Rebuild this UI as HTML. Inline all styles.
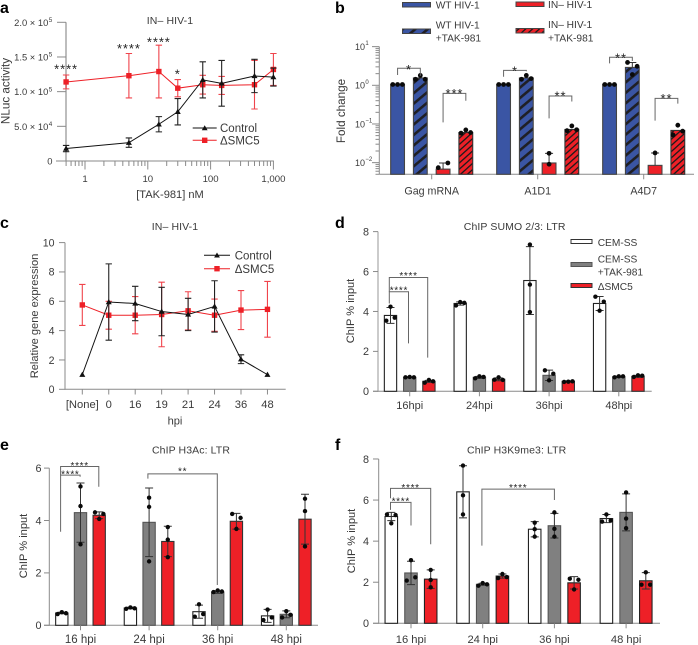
<!DOCTYPE html>
<html lang="en">
<head>
<meta charset="utf-8">
<title>TAK-981 and SMC5 HIV-1 panels</title>
<style>
html,body{margin:0;padding:0;background:#fff;}
svg{display:block;font-family:"Liberation Sans",sans-serif;fill:#3a3a3a;}
.letter{font-size:16px;font-weight:bold;fill:#000;}
.title{font-size:10.5px;text-anchor:middle;letter-spacing:.1px;}
.axt{font-size:11.1px;text-anchor:middle;}
.leg{font-size:10.2px;}
.leg2{font-size:11.5px;}
</style>
</head>
<body>
<svg id="figure" xmlns="http://www.w3.org/2000/svg" width="698" height="645" viewBox="0 0 698 645">
<defs>
<pattern id="blue-hatch" width="8" height="8" patternUnits="userSpaceOnUse" patternTransform="rotate(-40)"><rect width="8" height="8" fill="#3a55a4"/><rect width="8" height="2.6" fill="#1f1f24"/></pattern>
<pattern id="red-hatch" width="4.6" height="4.6" patternUnits="userSpaceOnUse" patternTransform="rotate(-42)"><rect width="4.6" height="4.6" fill="#ee2027"/><rect width="4.6" height="1.3" fill="#1a1a1a"/></pattern>
</defs>
<rect width="698" height="645" fill="#fff"/>

<text class="letter" x="0" y="13">a</text>
<text class="letter" x="335" y="13">b</text>
<text class="letter" x="0" y="228">c</text>
<text class="letter" x="335" y="228">d</text>
<text class="letter" x="0" y="450">e</text>
<text class="letter" x="335" y="450">f</text>

<text class="title" x="170" y="24">IN– HIV-1</text>
<text class="axt" x="170" y="198">[TAK-981] nM</text>
<text class="axt" style="font-size:11.7px" transform="translate(9.5,91) rotate(-90)">NLuc activity</text>

<text class="axt" style="font-size:11.7px" transform="translate(345,111) rotate(-90)">Fold change</text>

<text class="title" x="175" y="230">IN– HIV-1</text>
<text class="axt" x="175" y="424.5">hpi</text>
<text class="axt" transform="translate(38,316) rotate(-90)">Relative gene expression</text>

<text class="title" x="514.7" y="230">ChIP SUMO 2/3: LTR</text>
<text class="axt" transform="translate(354,311) rotate(-90)">ChIP % input</text>

<text class="title" x="191" y="453.5">ChIP H3Ac: LTR</text>
<text class="axt" transform="translate(27,546) rotate(-90)">ChIP % input</text>

<text class="title" x="516.7" y="453.5">ChIP H3K9me3: LTR</text>
<text class="axt" transform="translate(355,541) rotate(-90)">ChIP % input</text>

<!-- Legend b -->
<g>
<rect x="402.5" y="2.5" width="28" height="4.5" fill="#3a55a4" stroke="#444"/>
<text class="leg" x="435.7" y="8.5">WT HIV-1</text>
<rect x="402.5" y="29" width="28" height="4.5" fill="url(#blue-hatch)" stroke="#444"/>
<text class="leg"><tspan x="435.7" y="28.7">WT HIV-1</tspan><tspan x="435.7" y="41.7">+TAK-981</tspan></text>
<rect x="516" y="2" width="28" height="4.5" fill="#ee2027" stroke="#444"/>
<text class="leg" x="548" y="8">IN– HIV-1</text>
<rect x="516" y="28.5" width="28" height="4.5" fill="url(#red-hatch)" stroke="#444"/>
<text class="leg"><tspan x="548" y="28">IN– HIV-1</tspan><tspan x="548" y="41.5">+TAK-981</tspan></text>
</g>

<!-- Legend d -->
<g>
<rect x="571" y="239.5" width="21" height="4" fill="#fff" stroke="#333"/>
<text class="leg" x="597.7" y="246">CEM-SS</text>
<rect x="571" y="262.5" width="21" height="4" fill="#808080" stroke="#555"/>
<text class="leg"><tspan x="597.7" y="262.5">CEM-SS</tspan><tspan x="597.7" y="275.5">+TAK-981</tspan></text>
<rect x="571" y="283.5" width="21" height="4" fill="#ee2027" stroke="#333"/>
<text class="leg" x="597.7" y="290">ΔSMC5</text>
</g>

<!-- Legend a -->
<g>
<line x1="192.7" x2="216.7" y1="128" y2="128" stroke="#111" stroke-width="1"/>
<polygon points="204.7,125.2 207.6,130.2 201.8,130.2" fill="#111"/>
<text class="leg2" x="220" y="132.2">Control</text>
<line x1="192.7" x2="216.7" y1="140.3" y2="140.3" stroke="#ee2027" stroke-width="1"/>
<rect x="202" y="137.6" width="5.4" height="5.4" fill="#ee2027"/>
<text class="leg2" x="220" y="144.5">ΔSMC5</text>
</g>

<!-- Legend c -->
<g>
<line x1="204" x2="230" y1="255.3" y2="255.3" stroke="#111" stroke-width="1"/>
<polygon points="217,252.5 219.9,257.5 214.1,257.5" fill="#111"/>
<text class="leg2" x="234.7" y="259.5">Control</text>
<line x1="204" x2="230" y1="268.7" y2="268.7" stroke="#ee2027" stroke-width="1"/>
<rect x="214.3" y="266" width="5.4" height="5.4" fill="#ee2027"/>
<text class="leg2" x="234.7" y="272.9">ΔSMC5</text>
</g>

<g id="charts"></g>
</svg>

<script>
// ---------- Panel a data ----------
const aDoses = [0.5, 5, 15, 30, 75, 150, 500, 1000];
const aControl = [18000, 26500, 53000, 71000, 117000, 112000, 122600, 121000];
const aControlErr = [4500, 6700, 11000, 19000, 26000, 33000, 24000, 13000];
const aSmc5 = [114000, 123000, 129000, 105000, 110000, 109000, 110000, 132000];
const aSmc5Err = [10000, 32000, 38000, 12500, 13500, 13000, 35000, 23000];
const aYTicks = [0, 50000, 100000, 150000, 200000];
const aYMantissas = ['0', '5.0 × 10', '1.0 × 10', '1.5 × 10', '2.0 × 10'];
const aYExponents = ['', '4', '5', '5', '5'];
const aXTicks = [1, 10, 100, 1000];
const aXLabels = ['1', '10', '100', '1,000'];
const aStarDoses = [0.5, 5, 15, 30];
const aStarValues = [137500, 167000, 176000, 130000];
const aStarLabels = ['****', '****', '****', '*'];

// ---------- Panel b data ----------
const bGroups = ['Gag mRNA', 'A1D1', 'A4D7'];
const bMeans = [[1.05, 1.55, 0.0068, 0.06], [1.05, 1.55, 0.0098, 0.072], [1.05, 2.9, 0.0085, 0.068]];
const bUpper = [[0, 0, 0.0098, 0], [0, 0, 0.0174, 0], [0, 3.9, 0.0178, 0]];
const bPoints = [
  [[1.05, 1.05, 1.05], [1.43, 1.8, 1.43], [0.0074, 0.0045, 0.0098], [0.058, 0.07, 0.06]],
  [[1.05, 1.05, 1.05], [1.43, 1.8, 1.49], [0.0091, 0.0174, 0.0045], [0.067, 0.089, 0.071]],
  [[1.05, 1.05, 1.05], [3.9, 1.9, 3.1], [0.0178, 0.0045, 0.0045], [0.052, 0.093, 0.065]]
];
const bYExponents = [1, 0, -1, -2];
const bBrackets = [
  {from: [0, 0], to: [0, 1], top: 2.75, leftEnd: 1.85, rightEnd: 1.75, label: '*', labelValue: 3.05},
  {from: [0, 2], to: [0, 3], top: 0.62, leftEnd: 0.11, rightEnd: 0.4, label: '***', labelValue: 0.75},
  {from: [1, 0], to: [1, 1], top: 2.44, leftEnd: 1.67, rightEnd: 2.3, label: '*', labelValue: 2.8},
  {from: [1, 2], to: [1, 3], top: 0.53, leftEnd: 0.14, rightEnd: 0.38, label: '**', labelValue: 0.63},
  {from: [2, 0], to: [2, 1], top: 5.3, leftEnd: 3.7, rightEnd: 4.26, label: '**', labelValue: 6.2},
  {from: [2, 2], to: [2, 3], top: 0.46, leftEnd: 0.122, rightEnd: 0.336, label: '**', labelValue: 0.55}
];

// ---------- Panel c data ----------
const cCategories = ['[None]', '0', '16', '19', '21', '24', '36', '48'];
const cControl = [1, 5.95, 5.85, 5.3, 5.1, 5.65, 2.05, 1];
const cControlErr = [0, 2.6, 1.17, 1.65, 1.1, 1.75, 0.3, 0];
const cSmc5 = [5.75, 5.05, 5.05, 5.1, 5.35, 5.05, 5.4, 5.45];
const cSmc5Err = [1.4, 0.95, 1.27, 2.2, 1.3, 1.1, 1.33, 1.9];
const cYTicks = [0, 2, 4, 6, 8, 10];

// ---------- Panel d data ----------
const dGroups = ['16hpi', '24hpi', '36hpi', '48hpi'];
const dMeans = [[3.8, 0.7, 0.5], [4.4, 0.7, 0.6], [5.55, 0.8, 0.5], [4.4, 0.73, 0.75]];
const dErrors = [[0.4, 0.02, 0.05], [0.08, 0.05, 0.07], [1.7, 0.26, 0.02], [0.35, 0.03, 0.05]];
const dPoints = [
  [[3.54, 4.24, 3.69], [0.7, 0.72, 0.7], [0.43, 0.57, 0.5]],
  [[4.3, 4.47, 4.43], [0.65, 0.75, 0.72], [0.58, 0.7, 0.57]],
  [[7.35, 5.35, 3.97], [1.05, 0.55, 0.88], [0.47, 0.48, 0.5]],
  [[4.74, 4.49, 4.04], [0.7, 0.75, 0.75], [0.72, 0.8, 0.78]]
];
const dYTicks = [0, 2, 4, 6, 8];
const dBrackets = [
  {from: [0, 0], to: [0, 1], top: 4.99, leftEnd: 4.4, rightEnd: 2.4, label: '****', labelValue: 5.19},
  {from: [0, 0], to: [0, 2], top: 5.7, leftEnd: 4.99, rightEnd: 1.69, label: '****', labelValue: 5.93}
];

// ---------- Panel e data ----------
const eGroups = ['16 hpi', '24 hpi', '36 hpi', '48 hpi'];
const eMeans = [[0.47, 4.3, 4.2], [0.66, 3.93, 3.2], [0.52, 1.27, 3.97], [0.36, 0.42, 4.05]];
const eErrors = [[0.03, 1.13, 0.13], [0.03, 1.31, 0.58], [0.25, 0.05, 0.3], [0.25, 0.13, 0.95]];
const ePoints = [
  [[0.43, 0.5, 0.46], [5.3, 4.55, 3.09], [4.31, 4.06, 4.25]],
  [[0.63, 0.68, 0.65], [4.87, 4.52, 2.44], [3.75, 3.27, 2.6]],
  [[0.33, 0.8, 0.43], [1.27, 1.33, 1.29], [4.25, 3.68, 4.1]],
  [[0.2, 0.6, 0.3], [0.3, 0.54, 0.4], [4.83, 4.36, 3.01]]
];
const eYTicks = [0, 2, 4, 6];
const eBrackets = [
  {from: [0, 0], to: [0, 1], top: 5.73, leftEnd: 3.57, rightEnd: 5.67, label: '****', labelValue: 5.86},
  {from: [0, 0], to: [0, 2], top: 6.06, leftEnd: 5.73, rightEnd: 5.29, label: '****', labelValue: 6.2},
  {from: [1, 1], to: [2, 1], top: 5.78, leftEnd: 5.6, rightEnd: 1.54, label: '**', labelValue: 5.99}
];

// ---------- Panel f data ----------
const fGroups = ['16 hpi', '24 hpi', '36 hpi', '48 hpi'];
const fMeans = [[5.2, 2.45, 2.15], [6.4, 1.9, 2.3], [4.58, 4.75, 1.97], [5.1, 5.4, 2.07]];
const fErrors = [[0.2, 0.57, 0.45], [1.27, 0.05, 0.1], [0.37, 0.6, 0.3], [0.2, 0.9, 0.4]];
const fPoints = [
  [[5.3, 4.87, 5.27], [2.08, 3.07, 2.24], [2.6, 2.11, 1.75]],
  [[7.68, 6.23, 5.3], [1.83, 1.96, 1.9], [2.2, 2.4, 2.25]],
  [[4.9, 4.58, 4.22], [5.4, 4.6, 4.22], [2.17, 1.65, 2.12]],
  [[4.95, 5.3, 5.0], [6.37, 5.1, 4.63], [1.88, 2.48, 1.88]]
];
const fYTicks = [0, 2, 4, 6, 8];
const fBrackets = [
  {from: [0, 0], to: [0, 1], top: 5.89, leftEnd: 5.52, rightEnd: 4.76, label: '****', labelValue: 6.06},
  {from: [0, 0], to: [0, 2], top: 6.57, leftEnd: 6.09, rightEnd: 3.85, label: '****', labelValue: 6.72},
  {from: [1, 1], to: [2, 1], top: 6.53, leftEnd: 3.78, rightEnd: 6.0, label: '****', labelValue: 6.74}
];

// ---------- Drawing ----------
const NS = 'http://www.w3.org/2000/svg';
const root = document.getElementById('charts');
const AXIS = '#8a8a8a', TEXT = '#3a3a3a', RED = '#ee2027', BLUE = '#3a55a4', GREY = '#808080';

function mk(tag, attrs, text) {
  const n = document.createElementNS(NS, tag);
  for (const k in attrs) n.setAttribute(k, attrs[k]);
  if (text !== undefined) n.textContent = text;
  root.appendChild(n);
  return n;
}
function drawAxisLine(x1, y1, x2, y2, color, width) {
  const n = mk('line', {x1: x1, y1: y1, x2: x2, y2: y2, stroke: color || AXIS, 'stroke-width': width || 1});
  
  
}
function drawTick(x1, y1, x2, y2) {
  const n = mk('line', {x1: x1, y1: y1, x2: x2, y2: y2, stroke: AXIS, 'stroke-width': 1});
  
  
}
function drawTickLabel(x, y, str, anchor, size) {
  const n = mk('text', {x: x, y: y, 'text-anchor': anchor, 'font-size': size || 11, fill: TEXT}, str);
  
  
}
function drawStars(x, y, label, size, spacing) {
  const n = mk('text', {x: x, y: y + size * 0.59, 'text-anchor': 'middle', 'font-size': size, 'letter-spacing': spacing, fill: '#222'}, label);
  
  
}
function drawErrorBar(x, yTop, yBottom, cap, color, width) {
  const d = 'M' + (x - cap) + ' ' + yTop + 'H' + (x + cap) + 'M' + x + ' ' + yTop + 'V' + yBottom +
            'M' + (x - cap) + ' ' + yBottom + 'H' + (x + cap);
  const n = mk('path', {d: d, stroke: color, 'stroke-width': width, fill: 'none'});
  
  
}
function drawSeriesLine(xs, ys, color, width) {
  const pts = xs.map(function (x, i) { return x + ',' + ys[i]; }).join(' ');
  const n = mk('polyline', {points: pts, fill: 'none', stroke: color, 'stroke-width': width});
  
  
}
function drawTriangle(x, y, color) {
  const pts = x + ',' + (y - 3) + ' ' + (x + 3) + ',' + (y + 2.2) + ' ' + (x - 3) + ',' + (y + 2.2);
  const n = mk('polygon', {points: pts, fill: color});
  
  
}
function drawSquare(x, y, color) {
  const n = mk('rect', {x: x - 2.7, y: y - 2.7, width: 5.4, height: 5.4, fill: color});
  
  
}
function drawLineSeries(xs, vals, errs, yFn, color, errColor, marker, cap) {
  const ys = vals.map(yFn);
  vals.forEach(function (v, i) {
    if (errs[i] > 0) drawErrorBar(xs[i], yFn(v + errs[i]), yFn(v - errs[i]), cap, errColor, 1.1);
  });
  drawSeriesLine(xs, ys, color, 1);
  xs.forEach(function (x, i) { marker(x, ys[i], color); });
}

// Panel a
const aX = function (v) { return 85 + 62.8 * Math.log10(v); };
const aY = function (v) { return 161 - v * 138.7 / 200000; };
drawAxisLine(66, aY(200000), 66, 161.5, '#bdbdbd', 2);
drawAxisLine(56, 161, aX(1000) + 0.5, 161);
aYTicks.forEach(function (t, i) {
  drawTick(57, aY(t), 66, aY(t));
  drawTickLabel(i === 0 ? 52.5 : 48.3, aY(t) + 3.5, aYMantissas[i], 'end', 9.4);
  if (aYExponents[i] !== '') drawTickLabel(48.8, aY(t) - 0.3, aYExponents[i], 'start', 6.3);
});
[0.5, 0.6, 0.7, 0.8, 0.9, 2, 3, 4, 5, 6, 7, 8, 9, 20, 30, 40, 50, 60, 70, 80, 90, 200, 300, 400, 500, 600, 700, 800, 900].forEach(function (m) {
  drawTick(aX(m), 161, aX(m), 166);
});
aXTicks.forEach(function (t, i) {
  drawTick(aX(t), 161, aX(t), 169.5);
  drawTickLabel(aX(t), 182, aXLabels[i], 'middle', 9.6);
});
const aXs = aDoses.map(aX);
drawLineSeries(aXs, aSmc5, aSmc5Err, aY, RED, '#f0444c', drawSquare, 3.2);
drawLineSeries(aXs, aControl, aControlErr, aY, '#111', '#222', drawTriangle, 3.2);
aStarLabels.forEach(function (s, i) {
  drawStars(aX(aStarDoses[i]), aY(aStarValues[i]), s, 13, 0.9);
});

// Panel c
const cX = function (i) { return 82.3 + 26.45 * i; };
const cY = function (v) { return 389.3 - v * 14.67; };
drawAxisLine(65, cY(10), 65, 389.8);
drawAxisLine(65, 389.3, 285.7, 389.3);
cYTicks.forEach(function (t) {
  drawTick(59, cY(t), 65, cY(t));
  drawTickLabel(54.5, cY(t) + 3.8, String(t), 'end', 10.6);
});
cCategories.forEach(function (c, i) {
  drawTick(cX(i), 389.3, cX(i), 394.5);
  drawTickLabel(cX(i), 408, c, 'middle', 11.2);
});
const cXs = cCategories.map(function (c, i) { return cX(i); });
drawLineSeries(cXs, cSmc5, cSmc5Err, cY, RED, '#f0444c', drawSquare, 3.2);
drawLineSeries(cXs, cControl, cControlErr, cY, '#111', '#222', drawTriangle, 3.2);

// Bar panels
function pointOffsets(values, yFn, step) {
  const ys = values.map(yFn);
  const thr = 6.3;
  const close = function (a, b) { return Math.abs(ys[a] - ys[b]) < thr; };
  const pairs = [[0, 1], [0, 2], [1, 2]].filter(function (p) { return close(p[0], p[1]); });
  if (pairs.length === 0) return [0, 0, 0];
  if (pairs.length > 1) return [-step, 0, step];
  const out = [0, 0, 0];
  out[pairs[0][0]] = -step;
  out[pairs[0][1]] = step;
  return out;
}
function drawBarPanel(cfg) {
  const barX = function (g, b) { return cfg.firstCenter + cfg.groupStep * g + cfg.barStep * (b - (cfg.barCount - 1) / 2); };
  cfg.means.forEach(function (row, g) {
    row.forEach(function (m, b) {
      const x = barX(g, b);
      const yTop = cfg.y(m);
      const rect = mk('rect', {x: x - cfg.barWidth / 2, y: yTop, width: cfg.barWidth, height: cfg.baseY - yTop,
        fill: cfg.fills[b], stroke: cfg.strokes[b], 'stroke-width': 1.1});
      
      
    });
  });
  cfg.means.forEach(function (row, g) {
    row.forEach(function (m, b) {
      const x = barX(g, b);
      if (cfg.errors) {
        drawErrorBar(x, cfg.y(m + cfg.errors[g][b]), cfg.y(Math.max(m - cfg.errors[g][b], 0.001)), cfg.cap, '#333', 1);
      }
      if (cfg.upper && cfg.upper[g][b] > 0) {
        const d = 'M' + (x - cfg.cap) + ' ' + cfg.y(cfg.upper[g][b]) + 'H' + (x + cfg.cap) + 'M' + x + ' ' + cfg.y(cfg.upper[g][b]) + 'V' + cfg.y(m);
        const e = mk('path', {d: d, stroke: '#333', 'stroke-width': 1, fill: 'none'});
        
        
      }
      const pts = cfg.points[g][b];
      const offs = pointOffsets(pts, cfg.y, cfg.pointStep);
      pts.forEach(function (p, k) {
        if (p < cfg.minValue) return;
        const c = mk('circle', {cx: x + offs[k], cy: cfg.y(p), r: cfg.pointR, fill: '#0a0a0a'});
        
        
      });
    });
  });
  cfg.brackets.forEach(function (br) {
    const xl = barX(br.from[0], br.from[1]) + cfg.bracketShift;
    const xr = barX(br.to[0], br.to[1]) + cfg.bracketShiftR;
    const d = 'M' + xl + ' ' + cfg.y(br.leftEnd) + 'V' + cfg.y(br.top) + 'H' + xr + 'V' + cfg.y(br.rightEnd);
    const n = mk('path', {d: d, fill: 'none', stroke: '#666', 'stroke-width': 1});
    
    
    drawStars((xl + xr) / 2, cfg.y(br.labelValue), br.label, cfg.starSize, cfg.starSpacing);
  });
  cfg.groups.forEach(function (label, g) {
    const x = cfg.firstCenter + cfg.groupStep * g;
    drawTick(x, cfg.baseY, x, cfg.baseY + 5);
    drawTickLabel(x, cfg.labelY, label, 'middle', cfg.labelSize);
  });
}

// Panel b axes
const bY = function (v) { return 85.3 - 38.67 * Math.log10(v); };
drawAxisLine(379.3, bY(10), 379.3, 174.3);
drawAxisLine(379.3, 174.3, 694, 174.3);
bYExponents.forEach(function (e) {
  const v = Math.pow(10, e);
  drawTick(372, bY(v), 379.3, bY(v));
  drawTickLabel(365, bY(v) + 3.3, '10', 'end', 9);
  drawTickLabel(365.4, bY(v) - 1.5, String(e).replace('-', '−'), 'start', 6);
  [2, 3, 4, 5, 6, 7, 8, 9].forEach(function (m) {
    const mv = m * v;
    if (mv < 10 && e < 1) drawTick(375.5, bY(mv), 379.3, bY(mv));
  });
});
[5, 6, 7, 8, 9].forEach(function (m) { drawTick(375.5, bY(m / 1000), 379.3, bY(m / 1000)); });
drawBarPanel({
  groups: bGroups, means: bMeans, upper: bUpper, points: bPoints, brackets: bBrackets, y: bY,
  baseY: 174.3, firstCenter: 431.7, groupStep: 106, barStep: 22.75, barCount: 4, barWidth: 13.8,
  fills: [BLUE, 'url(#blue-hatch)', RED, 'url(#red-hatch)'], strokes: ['#444', '#444', '#444', '#333'],
  cap: 4, pointStep: 4.8, pointR: 2.4, minValue: 0.005, labelY: 194.5, labelSize: 10.7,
  bracketShift: 0, bracketShiftR: 0, starSize: 13, starSpacing: 0.9
});

// Panel d axes
const dY = function (v) { return 391.3 - 19.96 * v; };
drawAxisLine(378, dY(8), 378, 391.8, '#b5b5b5', 1.4);
drawAxisLine(373, 391.3, 651.7, 391.3);
dYTicks.forEach(function (t) {
  drawTick(373, dY(t), 378, dY(t));
  drawTickLabel(369, dY(t) + 3.8, String(t), 'end', 10.8);
});
drawBarPanel({
  groups: dGroups, means: dMeans, errors: dErrors, points: dPoints, brackets: dBrackets, y: dY,
  baseY: 391.3, firstCenter: 409.7, groupStep: 69.7, barStep: 19.2, barCount: 3, barWidth: 12.3,
  fills: ['#fff', GREY, RED], strokes: ['#222', '#555', '#333'],
  cap: 4, pointStep: 4.2, pointR: 2.2, minValue: 0, labelY: 409, labelSize: 11,
  bracketShift: -1.2, bracketShiftR: -1.2, starSize: 10, starSpacing: 0.7
});

// Panel e axes
const eY = function (v) { return 625.3 - 26.2 * v; };
drawAxisLine(49.3, eY(6), 49.3, 625.8);
drawAxisLine(44, 625.3, 318, 625.3);
eYTicks.forEach(function (t) {
  drawTick(44, eY(t), 49.3, eY(t));
  drawTickLabel(41.5, eY(t) + 3.8, String(t), 'end', 10.8);
});
drawBarPanel({
  groups: eGroups, means: eMeans, errors: eErrors, points: ePoints, brackets: eBrackets, y: eY,
  baseY: 625.3, firstCenter: 80.5, groupStep: 68.6, barStep: 18.7, barCount: 3, barWidth: 12.3,
  fills: ['#fff', GREY, RED], strokes: ['#222', '#555', '#333'],
  cap: 4, pointStep: 4.2, pointR: 2.2, minValue: 0, labelY: 643, labelSize: 11.5,
  bracketShift: -1.2, bracketShiftR: -0.4, starSize: 10, starSpacing: 0.7
});

// Panel f axes
const fY = function (v) { return 623.3 - 20.54 * v; };
drawAxisLine(378.7, fY(8), 378.7, 623.8);
drawAxisLine(373, 623.3, 660, 623.3);
fYTicks.forEach(function (t) {
  drawTick(373, fY(t), 378.7, fY(t));
  drawTickLabel(369, fY(t) + 3.8, String(t), 'end', 10.8);
});
drawBarPanel({
  groups: fGroups, means: fMeans, errors: fErrors, points: fPoints, brackets: fBrackets, y: fY,
  baseY: 623.3, firstCenter: 411, groupStep: 71.7, barStep: 19.7, barCount: 3, barWidth: 12.5,
  fills: ['#fff', GREY, RED], strokes: ['#222', '#555', '#222'],
  cap: 4, pointStep: 4.3, pointR: 2.2, minValue: 0, labelY: 643, labelSize: 11.2,
  bracketShift: -0.8, bracketShiftR: 0, starSize: 10, starSpacing: 0.7
});
</script>
</body>
</html>
